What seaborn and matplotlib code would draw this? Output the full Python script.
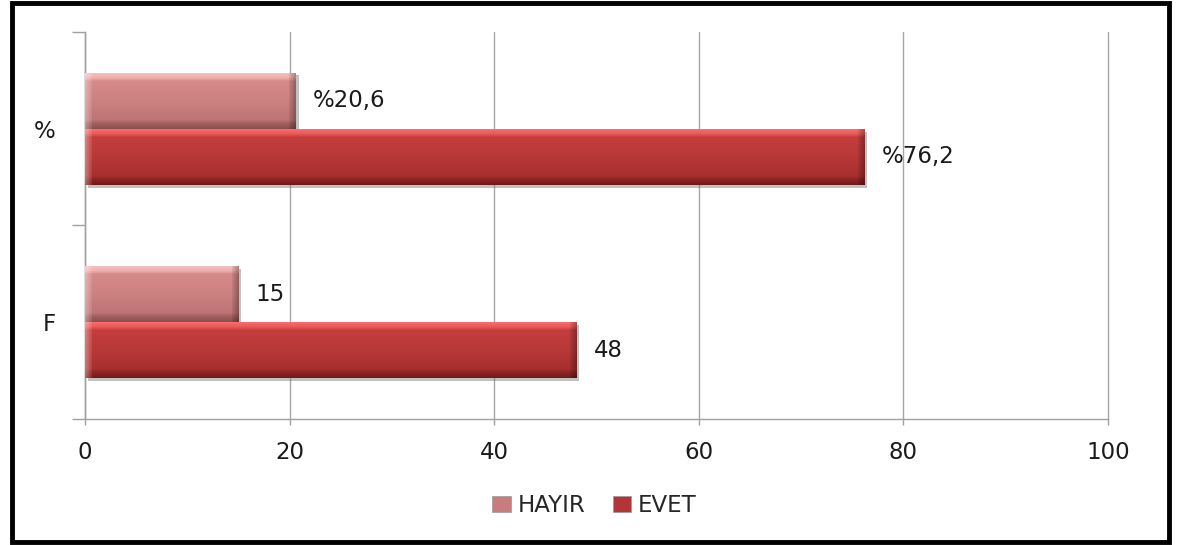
import numpy as np
import pandas as pd
import matplotlib
matplotlib.use("Agg")
import matplotlib.pyplot as plt
import seaborn as sns
from matplotlib.colors import LinearSegmentedColormap
from matplotlib.patches import Rectangle, Patch
from matplotlib import patheffects as pe

# Data
categories = ["%", "F"]
series = ["HAYIR", "EVET"]
hayir_values = [20.6, 15]
evet_values = [76.2, 48]
value_labels = {"HAYIR": ["%20,6", "15"], "EVET": ["%76,2", "48"]}
x_ticks = [0, 20, 40, 60, 80, 100]

df = pd.DataFrame({
    "kategori": categories * 2,
    "seri": [series[0]] * 2 + [series[1]] * 2,
    "deger": hayir_values + evet_values,
})

base_colors = {"HAYIR": "#C87C7C", "EVET": "#B33636"}
# bevel shading: light top strip, flat body, dark bottom strip
shades = {
    "HAYIR": [(0.0, "#F6C4C4"), (0.10, "#F0AEAE"), (0.16, "#D68A8A"), (0.5, "#CD8282"),
              (0.84, "#BE7474"), (0.90, "#A46060"), (1.0, "#8A4E4E")],
    "EVET": [(0.0, "#F87474"), (0.10, "#EC5858"), (0.16, "#C43E3E"), (0.5, "#B93838"),
             (0.84, "#A82F2F"), (0.90, "#8E2424"), (1.0, "#741818")],
}

sns.set_theme(style="white")
plt.rcParams["font.family"] = ["DejaVu Sans"]

fig = plt.figure(figsize=(11.77, 5.45), dpi=100)
ax = fig.add_axes([0.0722, 0.2312, 0.8692, 0.7101])

sns.barplot(data=df, y="kategori", x="deger", hue="seri", order=categories,
            hue_order=series, palette=base_colors, orient="h", width=0.58,
            dodge=True, saturation=1, ax=ax, legend=False, zorder=3)

ax.set_xlim(0, 100)
ax.set_ylim(1.5, -0.5)
px_per_unit = ax.get_window_extent().width / 100.0

# gradient shading clipped to each bar, plus bevelled ends
grad = np.linspace(0, 1, 512).reshape(-1, 1)
for cont, name in zip(ax.containers, series):
    cmap = LinearSegmentedColormap.from_list(name, shades[name])
    for bar in cont:
        bar.set_edgecolor("none")
        bar.set_path_effects([pe.SimplePatchShadow(offset=(2, -2), shadow_rgbFace="#777777", alpha=0.45),
                              pe.Normal()])
        x0, y0 = bar.get_x(), bar.get_y()
        w, h = bar.get_width(), bar.get_height()
        im = ax.imshow(grad, cmap=cmap, aspect="auto", extent=(x0, x0 + w, y0 + h, y0),
                       origin="upper", zorder=4, interpolation="nearest")
        im.set_clip_path(bar)
        # end bevels: light on the left edge, dark on the right edge
        n = max(int(w * px_per_unit), 20)
        edge = np.zeros((1, n, 4))
        k = 7
        edge[0, :k, :3] = 1.0
        edge[0, :k, 3] = np.linspace(0.35, 0.1, k)
        edge[0, -k:, :3] = 0.0
        edge[0, -k:, 3] = np.linspace(0.08, 0.3, k)
        ov = ax.imshow(edge, aspect="auto", extent=(x0, x0 + w, y0 + h, y0),
                       origin="upper", zorder=4.5, interpolation="nearest")
        ov.set_clip_path(bar)
    ax.bar_label(cont, labels=value_labels[name], padding=12.5, fontsize=16.5,
                 color="#1a1a1a", zorder=5)

ax.set_xlim(0, 100)
ax.set_ylim(1.5, -0.5)

# axes styling
ax.set_xticks(x_ticks)
ax.set_xticklabels([str(t) for t in x_ticks], fontsize=16.5, color="#1a1a1a")
ax.set_yticks([-0.5, 0.5, 1.5])
ax.set_yticklabels([])
ax.set_yticks([0, 1], minor=True)
ax.set_yticklabels(categories, minor=True, fontsize=16.5, color="#1a1a1a")
ax.tick_params(axis="y", which="major", length=9.5, width=1, color="#A0A0A0", direction="out", left=True)
ax.tick_params(axis="y", which="minor", length=0, pad=21)
ax.tick_params(axis="x", which="major", length=4.5, width=1, color="#A0A0A0", direction="out",
               bottom=True, pad=11)
ax.grid(axis="x", color="#A6A6A6", linewidth=1, zorder=0)
ax.grid(axis="y", visible=False)
for gl in ax.get_xgridlines():
    gl.set_clip_on(False)
ax.set_axisbelow(True)
for s in ["top", "right"]:
    ax.spines[s].set_visible(False)
for s in ["left", "bottom"]:
    ax.spines[s].set_color("#A0A0A0")
    ax.spines[s].set_linewidth(1)
ax.set_xlabel("")
ax.set_ylabel("")

# legend
handles = [Patch(facecolor=base_colors[n], edgecolor="#999999", linewidth=0.5) for n in series]
fig.legend(handles, series, loc="center", bbox_to_anchor=(0.505, 0.073), ncol=2, frameon=False,
           fontsize=16.5, handlelength=0.8, handleheight=0.7, handletextpad=0.3, columnspacing=1.2)

# chart frame
fig.patches.append(Rectangle((0.0098, 0.006), 0.9838, 0.988, transform=fig.transFigure,
                             fill=False, edgecolor="black", linewidth=3.5, zorder=10))

fig.savefig("out.png", dpi=100)
